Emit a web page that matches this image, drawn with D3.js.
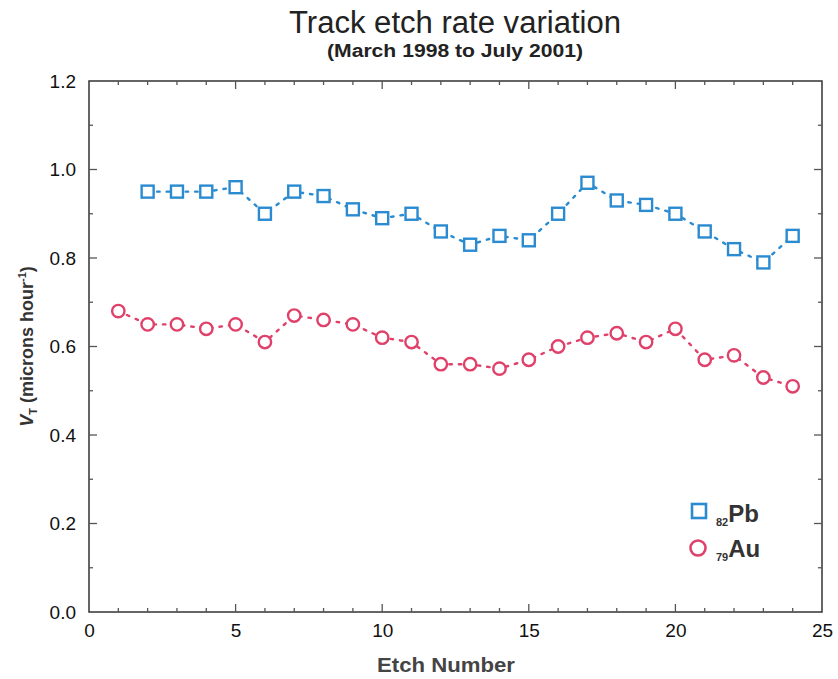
<!DOCTYPE html>
<html>
<head>
<meta charset="utf-8">
<script src="https://cdn.jsdelivr.net/npm/d3@7"></script>
<style>
  body { margin: 0; background: #fff; }
  text { font-family: "Liberation Sans", Arial, sans-serif; }
</style>
</head>
<body>
<svg id="chart"></svg>
<script>
// Etch numbers and track etch rates (microns/hour)
const pbEtch = [2, 3, 4, 5, 6, 7, 8, 9, 10, 11, 12, 13, 14, 15, 16, 17, 18, 19, 20, 21, 22, 23, 24];
const pbRate = [0.95, 0.95, 0.95, 0.96, 0.90, 0.95, 0.94, 0.91, 0.89, 0.90, 0.86, 0.83, 0.85, 0.84, 0.90, 0.97, 0.93, 0.92, 0.90, 0.86, 0.82, 0.79, 0.85];
const auEtch = [1, 2, 3, 4, 5, 6, 7, 8, 9, 10, 11, 12, 13, 14, 15, 16, 17, 18, 19, 20, 21, 22, 23, 24];
const auRate = [0.68, 0.65, 0.65, 0.64, 0.65, 0.61, 0.67, 0.66, 0.65, 0.62, 0.61, 0.56, 0.56, 0.55, 0.57, 0.60, 0.62, 0.63, 0.61, 0.64, 0.57, 0.58, 0.53, 0.51];
const xTicks = [0, 5, 10, 15, 20, 25];
const yTicks = [0, 0.2, 0.4, 0.6, 0.8, 1.0, 1.2];

const width = 838, height = 679;
const margin = { top: 81, right: 16, bottom: 67, left: 89 };
const innerW = width - margin.left - margin.right;
const innerH = height - margin.top - margin.bottom;

const svg = d3.select("#chart")
  .attr("width", width)
  .attr("height", height);

const g = svg.append("g")
  .attr("transform", `translate(${margin.left},${margin.top})`);

const x = d3.scaleLinear().domain([0, 25]).range([0, innerW]);
const y = d3.scaleLinear().domain([0, 1.2]).range([innerH, 0]);

const axisColor = "#333";
const narrow = "'Liberation Sans Narrow', 'Liberation Sans', Arial, sans-serif";

// frame
g.append("rect")
  .attr("width", innerW)
  .attr("height", innerH)
  .attr("fill", "none")
  .attr("stroke", axisColor)
  .attr("stroke-width", 1.5);

// inward ticks on all four sides
const xMinor = d3.range(1, 25);
const yMinor = d3.range(1, 12).map(d => d / 10);
function tickLen(isMajor) { return isMajor ? 8 : 4; }

xMinor.forEach(v => {
  const len = tickLen(v % 5 === 0);
  g.append("line").attr("x1", x(v)).attr("x2", x(v)).attr("y1", innerH).attr("y2", innerH - len)
    .attr("stroke", "#555").attr("stroke-width", 1.3);
  g.append("line").attr("x1", x(v)).attr("x2", x(v)).attr("y1", 0).attr("y2", len)
    .attr("stroke", "#555").attr("stroke-width", 1.3);
});
yMinor.forEach(v => {
  const len = tickLen(Math.round(v * 10) % 2 === 0);
  g.append("line").attr("x1", 0).attr("x2", len).attr("y1", y(v)).attr("y2", y(v))
    .attr("stroke", "#555").attr("stroke-width", 1.3);
  g.append("line").attr("x1", innerW).attr("x2", innerW - len).attr("y1", y(v)).attr("y2", y(v))
    .attr("stroke", "#555").attr("stroke-width", 1.3);
});

// axes labels via d3 axes (no tick lines, text only)
const xAxis = g.append("g")
  .attr("transform", `translate(0,${innerH})`)
  .call(d3.axisBottom(x).tickValues(xTicks).tickSize(0).tickPadding(12).tickFormat(d3.format("d")));
xAxis.select(".domain").remove();
xAxis.selectAll("text").attr("font-size", 19).attr("fill", "#111")
  .style("font-family", "Liberation Sans, Arial, sans-serif");

const yAxis = g.append("g")
  .call(d3.axisLeft(y).tickValues(yTicks).tickSize(0).tickPadding(13).tickFormat(d3.format(".1f")));
yAxis.select(".domain").remove();
yAxis.selectAll("text").attr("font-size", 19).attr("fill", "#111")
  .style("font-family", "Liberation Sans, Arial, sans-serif");

// titles
svg.append("text")
  .attr("x", 455).attr("y", 33)
  .attr("text-anchor", "middle")
  .attr("font-size", 31)
  .attr("fill", "#222")
  .style("font-family", narrow)
  .attr("textLength", 332)
  .attr("lengthAdjust", "spacingAndGlyphs")
  .text("Track etch rate variation");
svg.append("text")
  .attr("x", 455).attr("y", 57)
  .attr("text-anchor", "middle")
  .attr("font-size", 18)
  .attr("font-weight", "bold")
  .attr("fill", "#222")
  .style("font-family", narrow)
  .attr("textLength", 256)
  .attr("lengthAdjust", "spacingAndGlyphs")
  .text("(March 1998 to July 2001)");

svg.append("text")
  .attr("x", 446).attr("y", 672)
  .attr("text-anchor", "middle")
  .attr("font-size", 21)
  .attr("font-weight", "bold")
  .attr("fill", "#444")
  .style("font-family", narrow)
  .attr("textLength", 138)
  .attr("lengthAdjust", "spacingAndGlyphs")
  .text("Etch Number");

const yl = svg.append("text")
  .attr("transform", `translate(33,${margin.top + innerH / 2}) rotate(-90)`)
  .attr("text-anchor", "middle")
  .attr("font-size", 18)
  .attr("font-weight", "bold")
  .attr("fill", "#333");
yl.append("tspan").attr("font-style", "italic").text("V");
yl.append("tspan").attr("font-size", 11).attr("dy", 4).text("T");
yl.append("tspan").attr("dy", -4).text(" (microns hour");
yl.append("tspan").attr("font-size", 11).attr("dy", -7).text("-1");
yl.append("tspan").attr("dy", 7).text(")");

// series
const pbColor = "#2b8bd1";
const auColor = "#e0416a";

const pbData = pbEtch.map((e, i) => ({ x: e, y: pbRate[i] }));
const auData = auEtch.map((e, i) => ({ x: e, y: auRate[i] }));

const line = d3.line().x(d => x(d.x)).y(d => y(d.y));

g.append("path").datum(pbData)
  .attr("d", line).attr("fill", "none")
  .attr("stroke", pbColor).attr("stroke-width", 2.4)
  .attr("stroke-dasharray", "2.5,7").attr("stroke-linecap", "round");
g.append("path").datum(auData)
  .attr("d", line).attr("fill", "none")
  .attr("stroke", auColor).attr("stroke-width", 2.4)
  .attr("stroke-dasharray", "2.5,7").attr("stroke-linecap", "round");

const sq = 12;
g.selectAll(".pb").data(pbData).enter().append("rect")
  .attr("class", "pb")
  .attr("x", d => x(d.x) - sq / 2).attr("y", d => y(d.y) - sq / 2)
  .attr("width", sq).attr("height", sq)
  .attr("fill", "#fff").attr("stroke", pbColor).attr("stroke-width", 2.4);

g.selectAll(".au").data(auData).enter().append("circle")
  .attr("class", "au")
  .attr("cx", d => x(d.x)).attr("cy", d => y(d.y)).attr("r", 6.2)
  .attr("fill", "#fff").attr("stroke", auColor).attr("stroke-width", 2.4);

// legend
const legend = svg.append("g");
legend.append("rect").attr("x", 692).attr("y", 504).attr("width", 14).attr("height", 14)
  .attr("fill", "#fff").attr("stroke", pbColor).attr("stroke-width", 2.6);
const t1 = legend.append("text").attr("x", 716).attr("y", 522).attr("font-weight", "bold").attr("fill", "#333");
t1.append("tspan").attr("font-size", 11).attr("dy", 4).text("82");
t1.append("tspan").attr("font-size", 24).attr("dy", -4).text("Pb");

legend.append("circle").attr("cx", 698).attr("cy", 548).attr("r", 7.5)
  .attr("fill", "#fff").attr("stroke", auColor).attr("stroke-width", 2.6);
const t2 = legend.append("text").attr("x", 716).attr("y", 557).attr("font-weight", "bold").attr("fill", "#333");
t2.append("tspan").attr("font-size", 11).attr("dy", 4).text("79");
t2.append("tspan").attr("font-size", 24).attr("dy", -4).text("Au");
</script>
</body>
</html>
